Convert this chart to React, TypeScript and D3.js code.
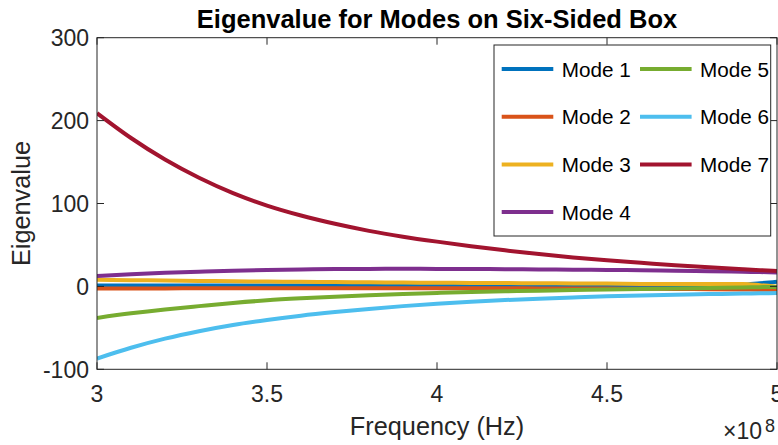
import React from "react";
import * as d3 from "d3";

const freq = [3.0, 3.1, 3.2, 3.3, 3.4, 3.5, 3.6, 3.7, 3.8, 3.9, 4.0, 4.1, 4.2, 4.3, 4.4, 4.5, 4.6, 4.7, 4.8, 4.9, 4.95, 5.0];

const mode1 = [1, 1, 1, 1, 1, 1, 1, 1.1, 1.1, 1.1, 1.2, 1.2, 1.3, 1.3, 1.4, 1.5, 1.6, 1.7, 1.8, 2.0, 3.8, 5.5];
const mode2 = [-2.5, -2.4, -2.4, -2.3, -2.3, -2.2, -2.2, -2.2, -2.2, -2.2, -2.2, -2.3, -2.3, -2.4, -2.5, -2.6, -2.8, -3.0, -3.3, -3.6, -3.9, -4.2];
const mode3 = [8, 7.5, 7.1, 6.6, 6.2, 5.8, 5.5, 5.2, 4.9, 4.6, 4.4, 4.2, 4.0, 3.8, 3.6, 3.4, 3.0, 2.9, 2.9, 2.9, 1.5, -0.5];
const mode4 = [12.4, 14.6, 16.4, 17.8, 19, 19.9, 20.5, 20.9, 21.1, 21.2, 21.1, 21, 20.8, 20.5, 20.2, 19.9, 19.5, 19, 18.4, 17.7, 17.3, 16.9];
const mode5 = [-38, -32.5, -27.8, -23.8, -20, -16.8, -14.4, -12.4, -10.7, -9.2, -7.9, -6.8, -5.9, -5.1, -4.4, -3.8, -3.2, -2.6, -1.9, -1.2, -0.9, -0.6];
const mode6 = [-87, -74, -63, -54, -46.5, -40.5, -35.3, -31, -27.2, -23.8, -20.8, -18.5, -16.5, -14.8, -13.3, -12, -11, -10.1, -9.3, -8.6, -8.3, -8];
const mode7 = [209, 179, 153, 131, 112.5, 97.5, 85.5, 75.5, 67, 60, 54, 48.5, 43.5, 39, 35, 31.5, 28.5, 25.5, 23, 20.7, 19.6, 18.7];

const seriesNames = ["Mode 1", "Mode 2", "Mode 3", "Mode 4", "Mode 5", "Mode 6", "Mode 7"];
const seriesValues = [mode1, mode2, mode3, mode4, mode5, mode6, mode7];
const colors = ["#0072BD", "#D95319", "#EDB120", "#7E2F8E", "#77AC30", "#4DBEEE", "#A2142F"];

const xTicks = [3, 3.5, 4, 4.5, 5];
const yTicks = [-100, 0, 100, 200, 300];

const title = "Eigenvalue for Modes on Six-Sided Box";
const xLabel = "Frequency (Hz)";
const yLabel = "Eigenvalue";

const W = 778;
const H = 445;
const left = 97;
const right = 777;
const top = 37.7;
const bottom = 369.3;
const font = "'Liberation Sans', Arial, Helvetica, sans-serif";
const axisColor = "#262626";

export default function App() {
  const x = d3.scaleLinear().domain([3, 5]).range([left, right]);
  const y = d3.scaleLinear().domain([-100, 300]).range([bottom, top]);
  const line = d3
    .line<number>()
    .x((_, i) => x(freq[i]))
    .y((d) => y(d))
    .curve(d3.curveMonotoneX);

  const tickLen = 7;
  const legend = { x: 494, y: 45, w: 276.7, h: 191 };
  const rowY = (r: number) => 69 + r * 47.7;
  const legendItems = seriesNames.map((name, i) => {
    const col = i < 4 ? 0 : 1;
    const row = i < 4 ? i : i - 4;
    return { name, color: colors[i], lx: col === 0 ? 501.7 : 640, ly: rowY(row) };
  });

  return (
    <svg
      width={W}
      height={H}
      style={{ position: "absolute", left: 0, top: 0, background: "#fff" }}
      fontFamily={font}
    >
      <rect x={0} y={0} width={W} height={H} fill="#fff" />
      <defs>
        <clipPath id="plotclip">
          <rect x={left} y={top} width={right - left} height={bottom - top} />
        </clipPath>
      </defs>

      {/* data lines */}
      <g clipPath="url(#plotclip)">
        {seriesValues.map((vals, i) => (
          <path key={i} d={line(vals) || ""} fill="none" stroke={colors[i]} strokeWidth={4} strokeLinejoin="round" />
        ))}
      </g>

      {/* axes box */}
      <rect x={left} y={top} width={right - left} height={bottom - top} fill="none" stroke={axisColor} strokeWidth={1} />

      {/* x ticks */}
      {xTicks.map((t) => (
        <g key={"x" + t}>
          <line x1={x(t)} x2={x(t)} y1={bottom} y2={bottom - tickLen} stroke={axisColor} />
          <line x1={x(t)} x2={x(t)} y1={top} y2={top + tickLen} stroke={axisColor} />
          <text x={x(t)} y={402} textAnchor="middle" fontSize={23} fill={axisColor}>
            {String(t)}
          </text>
        </g>
      ))}

      {/* y ticks */}
      {yTicks.map((t) => (
        <g key={"y" + t}>
          <line x1={left} x2={left + tickLen} y1={y(t)} y2={y(t)} stroke={axisColor} />
          <line x1={right} x2={right - tickLen} y1={y(t)} y2={y(t)} stroke={axisColor} />
          <text x={89} y={y(t) + 8.5} textAnchor="end" fontSize={23} fill={axisColor}>
            {String(t)}
          </text>
        </g>
      ))}

      {/* exponent */}
      <text x={723} y={439} fontSize={23} fill={axisColor}>
        ×10
      </text>
      <text x={765} y={432} fontSize={18} fill={axisColor}>
        8
      </text>

      {/* labels */}
      <text x={(left + right) / 2} y={435} textAnchor="middle" fontSize={25.3} fill={axisColor}>
        {xLabel}
      </text>
      <text
        transform={`translate(30, ${(top + bottom) / 2}) rotate(-90)`}
        textAnchor="middle"
        fontSize={25.3}
        fill={axisColor}
      >
        {yLabel}
      </text>
      <text x={(left + right) / 2} y={28} textAnchor="middle" fontSize={25.5} fontWeight="bold" fill="#000">
        {title}
      </text>

      {/* legend */}
      <rect x={legend.x} y={legend.y} width={legend.w} height={legend.h} fill="#fff" stroke={axisColor} strokeWidth={1} />
      {legendItems.map((it) => (
        <g key={it.name}>
          <line x1={it.lx} x2={it.lx + 51.6} y1={it.ly} y2={it.ly} stroke={it.color} strokeWidth={4} />
          <text x={it.lx + 60} y={it.ly + 7.5} fontSize={20.7} fill="#000">
            {it.name}
          </text>
        </g>
      ))}
    </svg>
  );
}
